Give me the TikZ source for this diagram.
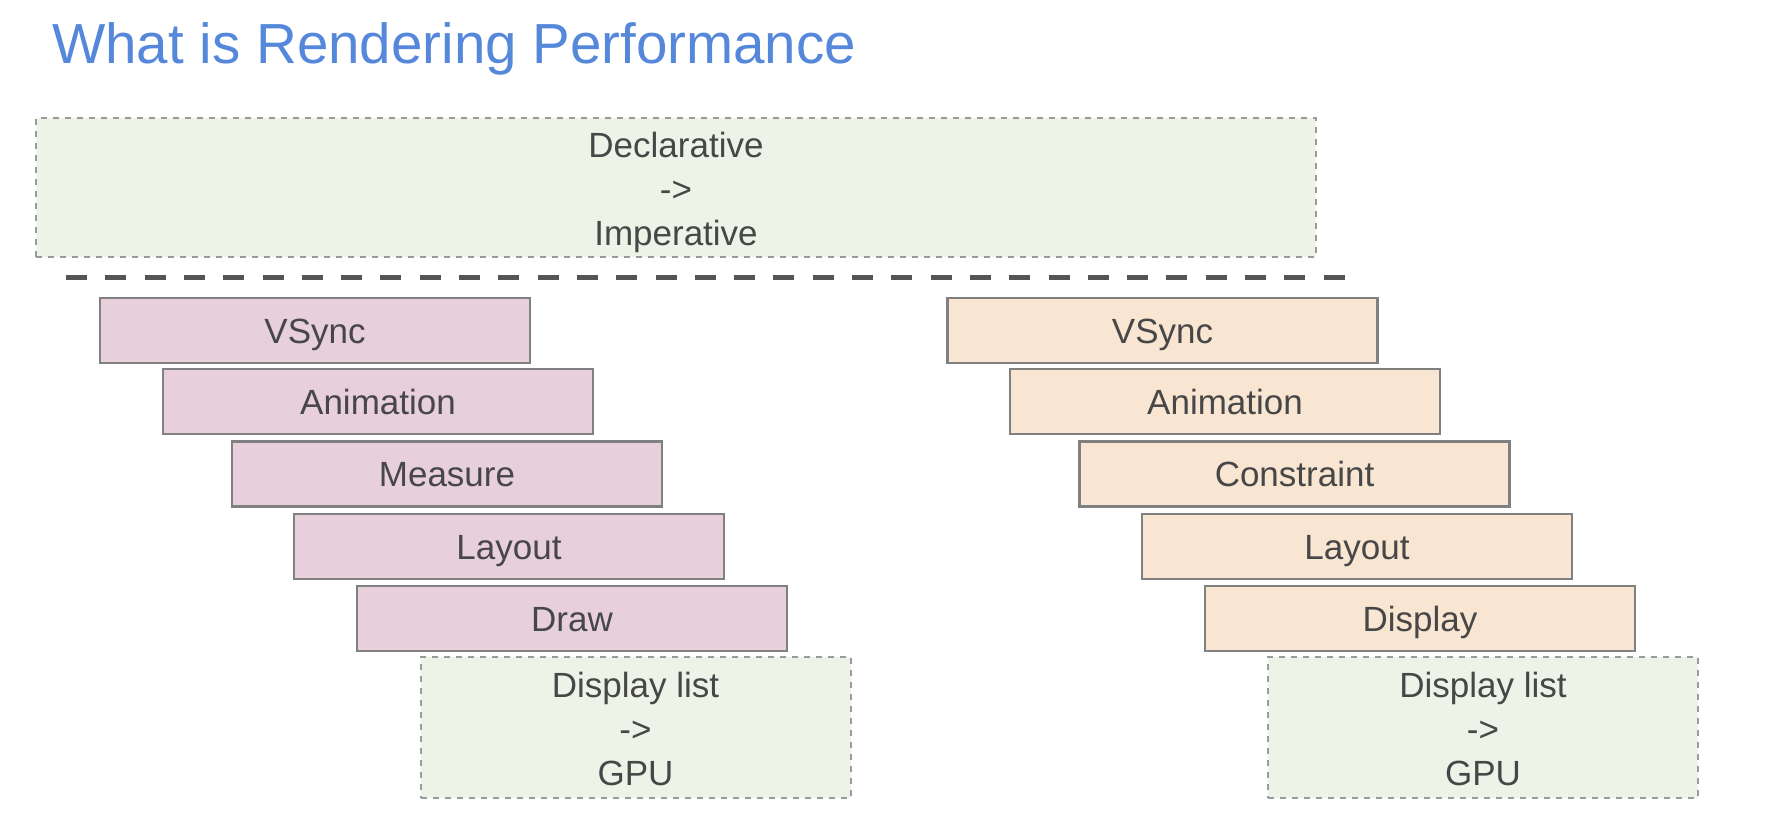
\documentclass[tikz,border=0pt]{standalone}
\usepackage{fontspec}
\setmainfont{Liberation Sans}
\definecolor{titleblue}{HTML}{5587DA}
\definecolor{pinkfill}{HTML}{E8CFDC}
\definecolor{orangefill}{HTML}{F8E5D2}
\definecolor{greenfill}{HTML}{EEF3E7}
\definecolor{boxline}{HTML}{808080}
\definecolor{dotline}{HTML}{9A9A9A}
\definecolor{txt}{HTML}{474747}
\definecolor{sepline}{HTML}{555555}
\tikzset{
  stagebox/.style={draw=boxline, line width=2.5pt, minimum width=430pt, minimum height=65pt,
    inner sep=0pt, text=txt, font=\fontsize{35}{43.5}\selectfont, text height=25pt, text depth=0pt},
  pinkbox/.style={stagebox, fill=pinkfill},
  orangebox/.style={stagebox, fill=orangefill},
  notebox/.style={draw=dotline, line width=2pt, dash pattern=on 6pt off 6pt, fill=greenfill,
    inner sep=0pt, text=txt, align=center, font=\fontsize{35}{44}\selectfont},
  sepstyle/.style={draw=sepline, line width=5pt, dash pattern=on 21pt off 18.3pt}
}
\begin{document}
\begin{tikzpicture}[x=1pt,y=-1pt]
\useasboundingbox[fill=white] (0,0) rectangle (1782,834);
% title
\node[anchor=base west, inner sep=0pt, text=titleblue, font=\fontsize{56.5}{60}\selectfont] (title) at (52,64) {What is Rendering Performance};
% top box
\node[notebox, minimum width=1280pt, minimum height=139pt] (top) at (676,187.5) {\parbox{600pt}{\vspace*{9pt}\centering Declarative\\->\\Imperative}};
% separator
\coordinate (sepA) at (66,278);
\coordinate (sepB) at (1345,278);
\draw[sepstyle] (sepA) -- (sepB);
% left column
\node[pinkbox] (lvsync) at (315,330.5) {VSync};
\node[pinkbox] (lanim) at (378,401.5) {Animation};
\node[pinkbox] (lmeas) at (447,474) {Measure};
\node[pinkbox] (llay) at (509,546.5) {Layout};
\node[pinkbox] (ldraw) at (572,618.5) {Draw};
\node[notebox, minimum width=430pt, minimum height=141pt] (ldl) at (635.5,727.5) {\parbox{400pt}{\vspace*{3pt}\centering Display list\\->\\GPU}};
% right column
\node[orangebox] (rvsync) at (1162.5,330.5) {VSync};
\node[orangebox] (ranim) at (1225,401.5) {Animation};
\node[orangebox] (rcons) at (1294.5,474) {Constraint};
\node[orangebox] (rlay) at (1357,546.5) {Layout};
\node[orangebox] (rdisp) at (1420,618.5) {Display};
\node[notebox, minimum width=430pt, minimum height=141pt] (rdl) at (1483,727.5) {\parbox{400pt}{\vspace*{3pt}\centering Display list\\->\\GPU}};
\end{tikzpicture}
\end{document}
